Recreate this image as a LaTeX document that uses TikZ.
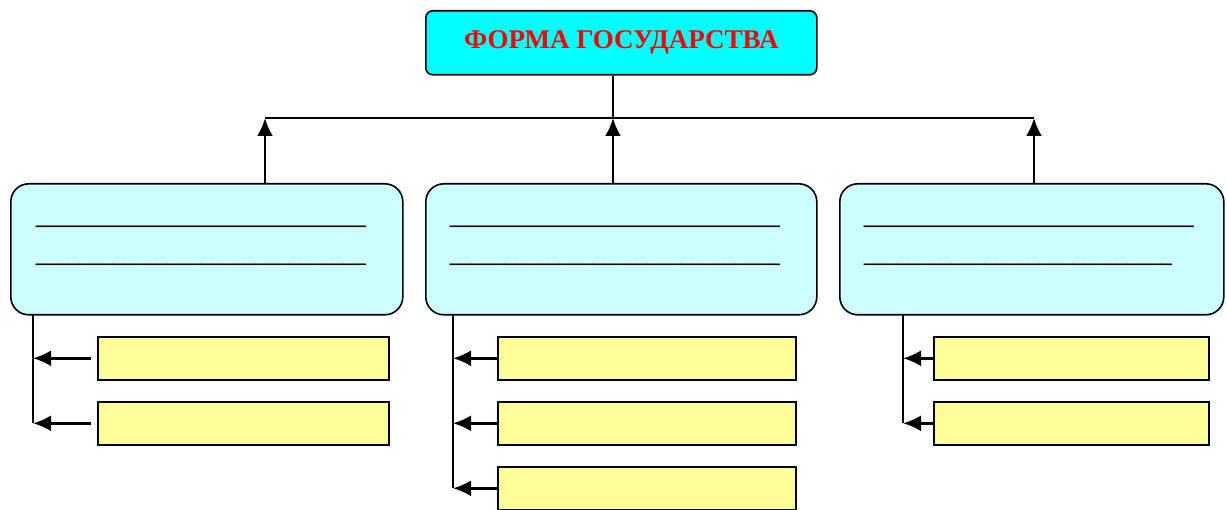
\documentclass[tikz,border=0pt]{standalone}
\usepackage{fontspec}
\setmainfont{Liberation Serif}
\usetikzlibrary{arrows.meta}
\tikzset{>={Latex[length=18pt,width=16pt]}}
\definecolor{titleColour}{RGB}{0,255,255}
\definecolor{kindColour}{RGB}{204,255,255}
\definecolor{itemColour}{RGB}{255,255,153}
\newcommand{\blankline}[1]{\foreach \k in {1,...,#1}{\_}}

\begin{document}
\begin{tikzpicture}[x=1pt, y=-1pt, line width=1.6pt,
		title/.style={draw, fill=titleColour, rounded corners=7pt, minimum width=391pt, minimum height=64pt, anchor=north west, text=red, font=\bfseries\fontsize{27}{27}\selectfont},
		kind/.style={draw, fill=kindColour, rounded corners=18pt, minimum height=131pt, anchor=north west},
		item/.style={draw, fill=itemColour, minimum height=43pt, anchor=north west},
		blank/.style={anchor=base west, inner sep=0pt, font=\bfseries\fontsize{22}{22}\selectfont},
		arr/.style={->, line width=2.6pt}]
		\useasboundingbox (0, 0) rectangle (1227, 510);

		% the title
		\node[title] (form) at (425, 10) {ФОРМА ГОСУДАРСТВА};

		% the three kinds
		\node[kind, minimum width=392pt] (left) at (10, 183) {};
		\node[kind, minimum width=391pt] (mid) at (425, 183) {};
		\node[kind, minimum width=384pt] (right) at (839, 183) {};

		% the blanks
		\node[blank] (l1) at (35, 225) {\blankline{30}};
		\node[blank] (l2) at (35, 263) {\blankline{30}};
		\node[blank] (m1) at (449, 225) {\blankline{30}};
		\node[blank] (m2) at (449, 263) {\blankline{30}};
		\node[blank] (r1) at (863, 225) {\blankline{30}};
		\node[blank] (r2) at (863, 263) {\blankline{28}};

		% the bus
		\coordinate (busL) at (265, 118);
		\coordinate (busM) at (613, 118);
		\coordinate (busR) at (1034, 118);
		\draw (form.south -| busM) -- (busM);
		\draw (busL) -- (busR);
		\draw[arr] (left.north -| busL) -- (busL);
		\draw[arr] (mid.north -| busM) -- (busM);
		\draw[arr] (right.north -| busR) -- (busR);

		% the items
		\node[item, minimum width=291pt] (la) at (97, 336) {};
		\node[item, minimum width=291pt] (lb) at (97, 401) {};
		\node[item, minimum width=298pt] (ma) at (497, 336) {};
		\node[item, minimum width=298pt] (mb) at (497, 401) {};
		\node[item, minimum width=298pt] (mc) at (497, 466) {};
		\node[item, minimum width=275pt] (ra) at (933, 336) {};
		\node[item, minimum width=275pt] (rb) at (933, 401) {};

		% the stems
		\coordinate (stemL) at (33, 314);
		\coordinate (stemM) at (453, 314);
		\coordinate (stemR) at (903, 314);
		\draw (stemL) -- (lb.west -| stemL);
		\draw (stemM) -- (mc.west -| stemM);
		\draw (stemR) -- (rb.west -| stemR);
		\foreach \b in {la, lb}
			\draw[arr] ([xshift=-6pt]\b.west) -- (\b.west -| stemL);
		\foreach \b in {ma, mb, mc}
			\draw[arr] (\b.west) -- (\b.west -| stemM);
		\foreach \b in {ra, rb}
			\draw[arr] (\b.west) -- (\b.west -| stemR);
	\end{tikzpicture}
\end{document}
